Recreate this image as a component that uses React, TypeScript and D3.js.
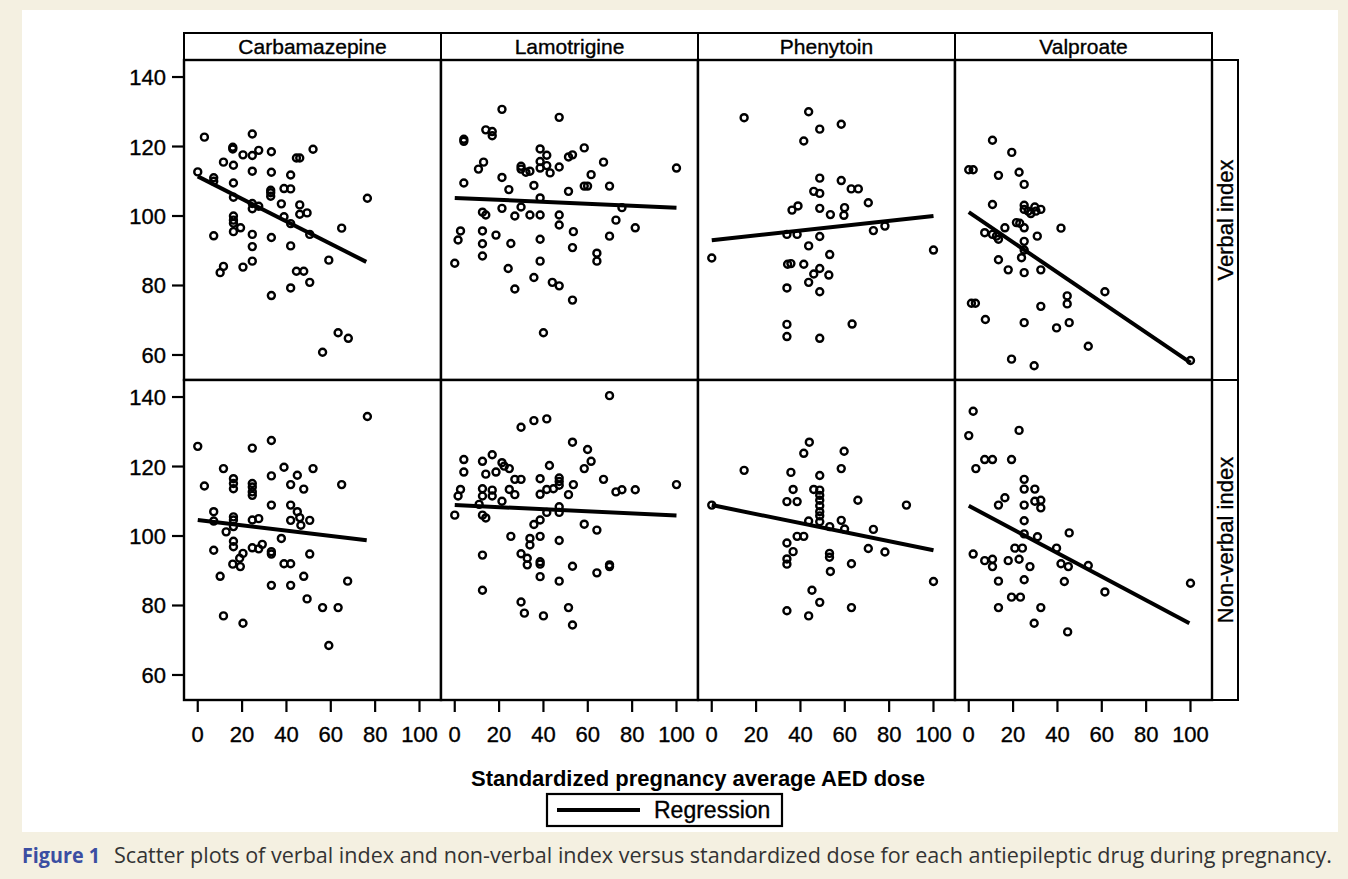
import React from "react";
import * as d3 from "d3";

const W = 1348;
const H = 879;
const FONT = "'Liberation Sans', Arial, Helvetica, sans-serif";

const drugs = ["Carbamazepine", "Lamotrigine", "Phenytoin", "Valproate"];
const indices = ["Verbal index", "Non-verbal index"];
const xTicks = [0, 20, 40, 60, 80, 100];
const yTicks = [60, 80, 100, 120, 140];

// [dose, index score]
const carbVerbal = [
  [3.0, 122.7], [24.6, 123.6], [15.8, 119.8], [15.8, 119.3], [20.4, 117.6], [24.6, 117.4], [27.5, 118.9],
  [33.2, 118.5], [52.0, 119.2], [44.5, 116.7], [46.0, 116.7], [11.6, 115.5], [16.1, 114.6], [0, 112.7],
  [7.2, 111.0], [7.2, 110.0], [24.6, 112.9], [33.2, 112.6], [41.9, 111.8], [16.1, 109.5], [32.9, 107.4],
  [32.9, 106.7], [32.9, 105.7], [38.9, 107.9], [41.9, 107.8], [76.5, 105.1], [16.1, 105.4], [37.7, 103.5],
  [24.6, 103.6], [24.6, 102.1], [27.5, 102.8], [46.0, 103.2], [46.0, 100.5], [49.3, 100.9], [38.9, 99.8],
  [16.1, 100.0], [16.1, 98.8], [16.1, 97.9], [19.3, 96.6], [16.1, 95.5], [41.9, 97.8], [50.5, 94.7],
  [64.9, 96.5], [7.2, 94.3], [24.6, 94.7], [33.2, 93.8], [24.6, 91.2], [41.9, 91.4], [59.1, 87.3],
  [24.6, 87.0], [20.4, 85.3], [11.6, 85.5], [10.1, 83.7], [44.5, 84.1], [47.8, 84.1], [50.5, 80.9],
  [41.9, 79.3], [33.2, 77.1], [63.3, 66.4], [67.9, 64.8], [56.3, 60.8],
];

const lamVerbal = [
  [21.3, 130.7], [47.1, 128.4], [14.0, 124.8], [16.9, 124.3], [16.9, 123.1], [4.1, 122.1], [4.1, 121.5],
  [38.5, 119.3], [41.5, 117.5], [58.4, 119.6], [51.3, 117.0], [53.1, 117.6], [13.0, 115.5], [10.7, 113.5],
  [67.1, 115.5], [38.5, 115.7], [29.9, 114.3], [29.9, 113.5], [32.1, 112.6], [33.9, 112.9], [38.5, 113.8],
  [41.5, 114.5], [43.0, 112.4], [47.1, 114.1], [100, 113.8], [61.5, 111.9], [21.3, 111.1], [4.1, 109.5],
  [35.7, 108.8], [24.4, 107.6], [58.4, 108.6], [59.9, 108.6], [69.8, 108.6], [51.3, 107.1], [38.5, 105.2],
  [21.3, 102.2], [29.9, 102.6], [12.5, 101.1], [14.0, 100.3], [27.1, 100.0], [33.9, 100.3], [38.5, 100.3],
  [47.1, 100.3], [75.4, 102.4], [72.7, 98.8], [47.1, 97.4], [81.4, 96.6], [2.6, 95.7], [1.5, 93.1],
  [12.5, 95.7], [18.6, 94.5], [53.5, 95.5], [69.8, 94.2], [38.5, 93.3], [12.5, 92.0], [25.3, 92.1],
  [53.1, 90.9], [12.5, 88.5], [64.1, 89.3], [64.1, 87.0], [0, 86.4], [38.5, 87.0], [24.1, 84.9],
  [35.7, 82.3], [44.0, 80.9], [47.1, 79.9], [27.1, 79.0], [53.1, 75.8], [40.0, 66.4],
];

const phenVerbal = [
  [14.6, 128.3], [43.7, 130.0], [58.4, 126.4], [48.7, 125.0], [41.5, 121.6], [48.7, 110.9], [58.4, 110.2],
  [62.9, 107.8], [66.1, 107.8], [46.0, 107.1], [48.7, 106.5], [70.6, 103.8], [36.2, 101.7], [38.9, 102.9],
  [48.7, 102.2], [59.9, 102.4], [59.6, 100.2], [53.5, 100.4], [72.9, 95.8], [78.1, 97.1], [33.9, 94.7],
  [38.5, 94.7], [48.7, 94.1], [43.7, 91.4], [100, 90.2], [0, 87.9], [53.2, 88.9], [34.2, 86.1],
  [35.7, 86.3], [41.5, 86.1], [48.7, 84.9], [46.0, 83.3], [52.8, 83.0], [43.7, 80.9], [33.9, 79.3],
  [48.7, 78.2], [33.9, 68.8], [63.3, 68.9], [33.9, 65.3], [48.7, 64.8],
];

const valpVerbal = [
  [10.7, 121.8], [19.4, 118.3], [0, 113.3], [2.0, 113.3], [13.4, 111.7], [22.7, 112.6], [25.0, 109.1],
  [10.7, 103.3], [25.0, 103.1], [25.0, 101.9], [26.8, 101.4], [29.8, 102.6], [30.3, 101.4], [32.5, 101.9],
  [28.0, 100.7], [21.5, 98.1], [23.0, 97.9], [16.3, 96.6], [25.0, 96.6], [41.6, 96.5], [7.2, 95.2],
  [10.7, 94.7], [13.4, 93.3], [12.5, 94.2], [30.9, 94.2], [25.0, 92.7], [25.0, 90.2], [23.8, 88.0],
  [13.4, 87.4], [17.8, 84.5], [25.0, 83.7], [32.5, 84.5], [61.4, 78.2], [44.4, 77.0], [44.4, 74.7],
  [1.2, 74.9], [3.0, 74.9], [32.5, 74.0], [7.5, 70.2], [25.0, 69.3], [45.3, 69.3], [39.6, 67.8],
  [53.9, 62.5], [19.3, 58.8], [29.5, 56.9], [100, 58.4],
];

const carbNonVerbal = [
  [76.5, 134.4], [33.2, 127.5], [0, 125.8], [24.6, 125.3], [38.9, 119.8], [52.0, 119.4], [11.6, 119.4],
  [44.9, 117.5], [33.2, 117.3], [16.1, 116.5], [16.1, 115.1], [16.1, 113.6], [24.6, 115.1], [24.6, 114.1],
  [24.6, 112.7], [24.6, 111.7], [41.9, 114.8], [47.8, 113.5], [3.0, 114.4], [64.9, 114.8], [33.2, 108.9],
  [41.9, 108.9], [44.9, 107.0], [41.9, 104.5], [46.0, 105.3], [46.5, 103.1], [50.5, 104.5], [7.2, 107.0],
  [7.2, 104.3], [16.1, 105.5], [16.1, 104.6], [16.1, 102.7], [24.6, 104.6], [27.5, 105.0], [12.8, 101.2],
  [37.7, 99.3], [16.1, 98.5], [16.1, 96.9], [24.6, 96.6], [27.5, 96.3], [29.1, 97.6], [7.2, 95.9],
  [33.2, 95.5], [33.2, 94.8], [50.5, 94.8], [20.4, 95.0], [18.9, 93.6], [15.8, 91.9], [19.2, 91.2],
  [38.9, 92.0], [41.9, 92.0], [10.1, 88.4], [47.8, 88.4], [67.6, 87.0], [33.2, 85.8], [41.9, 85.8],
  [49.3, 81.9], [56.3, 79.4], [63.3, 79.4], [11.6, 77.0], [20.4, 74.9], [59.1, 68.5],
];

const lamNonVerbal = [
  [69.8, 140.4], [29.9, 131.3], [35.7, 133.2], [41.5, 133.7], [53.1, 127.0], [59.9, 124.9], [16.9, 123.4],
  [4.1, 122.0], [12.5, 121.5], [21.3, 121.1], [22.3, 120.1], [24.6, 119.4], [18.6, 118.4], [14.0, 117.8],
  [4.1, 118.4], [42.7, 120.3], [61.5, 121.5], [58.4, 119.4], [27.1, 116.3], [29.9, 116.3], [38.5, 116.5],
  [47.1, 116.7], [47.1, 115.7], [67.1, 116.3], [53.5, 114.8], [2.6, 113.4], [1.5, 111.5], [12.5, 113.6],
  [16.9, 113.2], [12.5, 111.5], [16.9, 111.5], [21.3, 110.0], [24.6, 113.4], [27.1, 111.9], [38.5, 112.0],
  [41.5, 113.4], [44.5, 113.6], [47.1, 114.6], [51.3, 111.9], [72.7, 112.7], [75.4, 113.3], [81.4, 113.3],
  [100, 114.8], [11.0, 109.1], [12.5, 106.0], [14.0, 105.2], [0, 106.0], [47.1, 108.4], [47.1, 106.8],
  [41.5, 106.8], [38.5, 104.6], [35.7, 103.3], [58.4, 103.4], [64.1, 101.7], [25.3, 99.9], [33.9, 99.3],
  [38.5, 99.9], [33.9, 97.4], [47.1, 98.7], [12.5, 94.5], [29.9, 94.9], [32.7, 93.6], [32.7, 91.7],
  [38.5, 92.6], [38.5, 91.9], [53.1, 91.3], [69.8, 91.7], [69.8, 91.2], [64.1, 89.4], [38.5, 88.3],
  [47.1, 87.0], [12.5, 84.4], [29.9, 81.0], [31.4, 77.8], [51.3, 79.4], [40.0, 77.0], [53.1, 74.4],
];

const phenNonVerbal = [
  [44.0, 127.0], [41.5, 123.8], [59.7, 124.4], [14.6, 118.9], [35.7, 118.3], [58.4, 119.4], [48.7, 117.4],
  [36.7, 113.4], [46.0, 113.4], [48.7, 113.2], [48.7, 111.7], [48.7, 110.3], [48.7, 108.7], [48.7, 107.0],
  [48.7, 105.8], [48.7, 104.1], [33.9, 109.9], [38.5, 109.9], [65.9, 110.3], [87.8, 108.9], [0, 108.9],
  [43.7, 104.3], [58.4, 104.5], [59.9, 102.0], [53.2, 102.7], [72.9, 101.9], [38.5, 99.9], [41.5, 99.9],
  [33.9, 98.0], [36.7, 95.5], [70.6, 96.4], [78.1, 95.4], [53.1, 95.0], [53.1, 93.9], [33.9, 93.4],
  [33.9, 91.9], [63.0, 92.0], [53.5, 89.8], [100, 86.9], [45.2, 84.4], [48.7, 80.9], [33.9, 78.5],
  [63.0, 79.4], [43.7, 77.0],
];

const valpNonVerbal = [
  [2.0, 135.9], [0, 128.9], [22.7, 130.4], [7.2, 122.0], [10.7, 122.0], [19.3, 122.0], [3.2, 119.4],
  [25.0, 116.3], [25.0, 113.5], [29.8, 113.5], [16.3, 111.0], [13.4, 108.9], [25.0, 108.9], [29.8, 110.0],
  [32.5, 110.3], [32.5, 108.1], [25.0, 104.4], [45.3, 100.9], [25.0, 100.6], [31.0, 99.8], [39.6, 96.5],
  [20.8, 96.5], [24.2, 96.5], [2.0, 94.8], [7.2, 92.9], [10.7, 93.3], [10.7, 91.2], [17.8, 92.9],
  [22.7, 93.3], [27.6, 91.2], [41.6, 92.0], [44.9, 91.2], [53.9, 91.5], [13.4, 87.0], [25.0, 87.4],
  [43.1, 86.9], [100, 86.4], [61.4, 83.9], [19.3, 82.4], [23.3, 82.4], [13.4, 79.4], [32.5, 79.4],
  [29.5, 74.9], [44.6, 72.4],
];

// regression lines: [x0, y0, x1, y1]
const verbalFits = [
  [0, 111.4, 76, 86.8],
  [0, 105.2, 100, 102.4],
  [0, 93.0, 100, 100.0],
  [0, 101.1, 100, 57.8],
];
const nonVerbalFits = [
  [0, 104.6, 76.2, 98.8],
  [0, 108.9, 100, 105.9],
  [0, 108.9, 100, 95.9],
  [0, 108.7, 99.5, 74.9],
];

const panelData = [
  [carbVerbal, lamVerbal, phenVerbal, valpVerbal],
  [carbNonVerbal, lamNonVerbal, phenNonVerbal, valpNonVerbal],
];
const fits = [verbalFits, nonVerbalFits];

const colLeft = 184;
const colW = 257;
const rowTop = 60;
const rowH = 320;
const headerH = 27;
const stripW = 26;

// scanned text looks a little heavier than plain Liberation Sans
const ink = { fill: "#000", stroke: "#000", strokeWidth: 0.35 };

export default function App() {
  const x = d3.scaleLinear().domain([-6.2, 109.7]).range([0, colW]);
  const y = d3.scaleLinear().domain([52.8, 144.9]).range([rowH, 0]);
  const line = d3
    .line<[number, number]>()
    .x((d) => x(d[0]))
    .y((d) => y(d[1]));

  const gridRight = colLeft + colW * drugs.length;
  const gridBottom = rowTop + rowH * indices.length;

  return (
    <div style={{ position: "absolute", left: 0, top: 0 }}>
      <svg width={W} height={H} style={{ display: "block", fontFamily: FONT }}>
        <rect x={0} y={0} width={W} height={H} fill="#f4f0e1" />
        <rect x={22} y={10} width={1316} height={822} fill="#ffffff" />

        {/* column headers */}
        {drugs.map((d, i) => (
          <g key={d} transform={`translate(${colLeft + i * colW},${rowTop - headerH})`}>
            <rect width={colW} height={headerH} fill="#fff" stroke="#000" strokeWidth={2} />
            <text x={colW / 2} y={headerH / 2 + 7.5} textAnchor="middle" fontSize={21} {...ink}>
              {d}
            </text>
          </g>
        ))}

        {/* row strips */}
        {indices.map((lab, r) => (
          <g key={lab} transform={`translate(${gridRight},${rowTop + r * rowH})`}>
            <rect width={stripW} height={rowH} fill="#fff" stroke="#000" strokeWidth={2} />
            <text
              transform={`translate(${stripW / 2 + 8},${rowH / 2}) rotate(-90)`}
              textAnchor="middle"
              fontSize={22}
              {...ink}
            >
              {lab}
            </text>
          </g>
        ))}

        {/* panels */}
        {panelData.map((row, r) =>
          row.map((pts, c) => {
            const f = fits[r][c];
            return (
              <g key={`${r}-${c}`} transform={`translate(${colLeft + c * colW},${rowTop + r * rowH})`}>
                <rect width={colW} height={rowH} fill="#fff" />
                {pts.map((p, k) => (
                  <circle
                    key={k}
                    cx={x(p[0])}
                    cy={y(p[1])}
                    r={3.5}
                    fill="none"
                    stroke="#000"
                    strokeWidth={2.4}
                  />
                ))}
                <path
                  d={line([
                    [f[0], f[1]],
                    [f[2], f[3]],
                  ]) as string}
                  fill="none"
                  stroke="#000"
                  strokeWidth={4}
                />
                <rect width={colW} height={rowH} fill="none" stroke="#000" strokeWidth={2.4} />
              </g>
            );
          })
        )}

        {/* y axis */}
        {indices.map((lab, r) => (
          <g key={`y${r}`} transform={`translate(${colLeft},${rowTop + r * rowH})`}>
            {yTicks.map((t) => (
              <g key={t} transform={`translate(0,${y(t)})`}>
                <line x1={-12} x2={0} stroke="#000" strokeWidth={2.2} />
                <text x={-18} y={8} textAnchor="end" fontSize={22} {...ink}>
                  {t}
                </text>
              </g>
            ))}
          </g>
        ))}

        {/* x axis */}
        {drugs.map((d, c) => (
          <g key={`x${c}`} transform={`translate(${colLeft + c * colW},${gridBottom})`}>
            {xTicks.map((t) => (
              <g key={t} transform={`translate(${x(t)},0)`}>
                <line y1={0} y2={12} stroke="#000" strokeWidth={2.2} />
                <text y={42} textAnchor="middle" fontSize={22} {...ink}>
                  {t}
                </text>
              </g>
            ))}
          </g>
        ))}

        <text
          x={(colLeft + gridRight) / 2}
          y={786}
          textAnchor="middle"
          fontSize={22}
          fontWeight="bold"
          fill="#000"
        >
          Standardized pregnancy average AED dose
        </text>

        {/* legend */}
        <g transform="translate(547,794)">
          <rect width={235} height={32} fill="#fff" stroke="#000" strokeWidth={2.2} />
          <line x1={10} x2={93} y1={16} y2={16} stroke="#000" strokeWidth={4} />
          <text x={107} y={24} fontSize={23} {...ink}>
            Regression
          </text>
        </g>

        {/* caption */}
        <text x={22} y={863} fontSize={21} fontFamily="'Liberation Sans Narrow', 'Open Sans', sans-serif">
          <tspan fill="#3b4ea2" fontWeight="bold" textLength={78} lengthAdjust="spacingAndGlyphs">
            Figure 1
          </tspan>
          <tspan x={114} fill="#333" textLength={1218} lengthAdjust="spacingAndGlyphs">
            Scatter plots of verbal index and non-verbal index versus standardized dose for each antiepileptic drug
            during pregnancy.
          </tspan>
        </text>
      </svg>
    </div>
  );
}
